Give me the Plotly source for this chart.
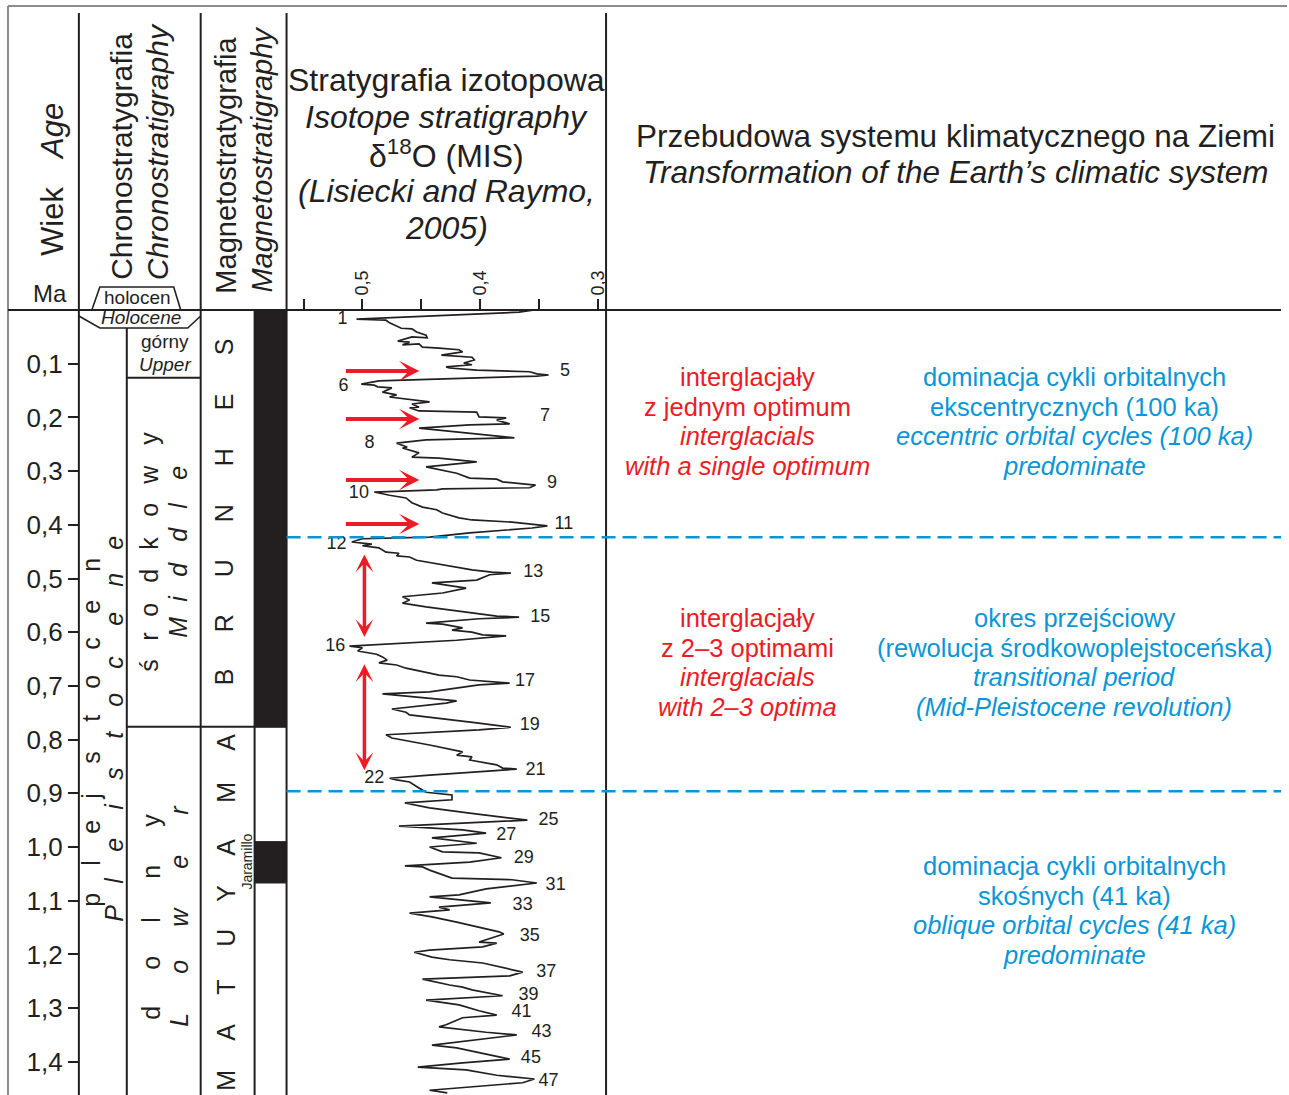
import plotly.graph_objects as go

# ---------------- data ----------------
# LR04-style benthic d18O curve (axis values as printed on the chart), age in Ma
age_ma = [
    0.000, 0.004, 0.017, 0.019, 0.024, 0.030, 0.034, 0.035, 0.041, 0.047,
    0.052, 0.050, 0.058, 0.060, 0.065, 0.063, 0.069, 0.071, 0.074, 0.078,
    0.084, 0.088, 0.093, 0.099, 0.102, 0.106, 0.108, 0.112, 0.115, 0.119,
    0.121, 0.123, 0.127, 0.132, 0.138, 0.140, 0.143, 0.145, 0.153, 0.158,
    0.162, 0.166, 0.171, 0.175, 0.181, 0.182, 0.188, 0.190, 0.199, 0.201,
    0.205, 0.212, 0.214, 0.220, 0.227, 0.238, 0.242, 0.248, 0.255, 0.257,
    0.266, 0.274, 0.276, 0.283, 0.292, 0.298, 0.304, 0.313, 0.315, 0.320,
    0.326, 0.331, 0.333, 0.335, 0.339, 0.345, 0.350, 0.359, 0.367, 0.372,
    0.378, 0.387, 0.391, 0.395, 0.400, 0.402, 0.406, 0.415, 0.423, 0.426,
    0.432, 0.434, 0.436, 0.439, 0.443, 0.451, 0.453, 0.458, 0.460, 0.466,
    0.469, 0.471, 0.484, 0.488, 0.490, 0.493, 0.503, 0.508, 0.518, 0.527,
    0.534, 0.540, 0.546, 0.553, 0.564, 0.570, 0.572, 0.575, 0.583, 0.585,
    0.592, 0.596, 0.600, 0.605, 0.607, 0.615, 0.626, 0.629, 0.635, 0.641,
    0.646, 0.652, 0.657, 0.661, 0.667, 0.674, 0.680, 0.683, 0.689, 0.695,
    0.698, 0.711, 0.715, 0.728, 0.732, 0.743, 0.749, 0.754, 0.760, 0.769,
    0.777, 0.782, 0.791, 0.797, 0.810, 0.819, 0.823, 0.829, 0.832, 0.838,
    0.847, 0.853, 0.855, 0.866, 0.872, 0.875, 0.879, 0.890, 0.898, 0.903,
    0.912, 0.918, 0.927, 0.937, 0.950, 0.961, 0.968, 0.974, 0.983, 0.993,
    1.000, 1.009, 1.011, 1.020, 1.028, 1.035, 1.037, 1.043, 1.048, 1.058,
    1.061, 1.067, 1.078, 1.089, 1.093, 1.104, 1.112, 1.117, 1.123, 1.130,
    1.140, 1.149, 1.158, 1.162, 1.177, 1.179, 1.186, 1.192, 1.196, 1.205,
    1.210, 1.216, 1.227, 1.233, 1.240, 1.246, 1.257, 1.261, 1.266, 1.277,
    1.285, 1.294, 1.305, 1.313, 1.318, 1.331, 1.335, 1.345, 1.350, 1.369,
    1.374, 1.384, 1.395, 1.402, 1.410, 1.415, 1.425, 1.432, 1.439, 1.453,
    1.458,
]
d18o = [
    0.354, 0.367, 0.505, 0.480, 0.477, 0.471, 0.467, 0.458, 0.454, 0.446,
    0.445, 0.458, 0.470, 0.460, 0.466, 0.452, 0.449, 0.435, 0.418, 0.415,
    0.433, 0.407, 0.405, 0.414, 0.407, 0.429, 0.426, 0.403, 0.358, 0.352,
    0.342, 0.352, 0.412, 0.486, 0.501, 0.490, 0.487, 0.475, 0.483, 0.471,
    0.477, 0.463, 0.443, 0.458, 0.452, 0.460, 0.452, 0.403, 0.401, 0.378,
    0.386, 0.375, 0.409, 0.452, 0.420, 0.371, 0.446, 0.471, 0.462, 0.466,
    0.452, 0.458, 0.435, 0.403, 0.446, 0.432, 0.420, 0.409, 0.386, 0.381,
    0.353, 0.358, 0.432, 0.437, 0.490, 0.477, 0.463, 0.458, 0.449, 0.437,
    0.432, 0.418, 0.407, 0.373, 0.353, 0.343, 0.356, 0.409, 0.443, 0.500,
    0.509, 0.501, 0.492, 0.500, 0.486, 0.480, 0.469, 0.471, 0.460, 0.454,
    0.446, 0.441, 0.407, 0.390, 0.374, 0.392, 0.403, 0.441, 0.412, 0.432,
    0.466, 0.460, 0.466, 0.446, 0.409, 0.386, 0.367, 0.401, 0.446, 0.432,
    0.415, 0.424, 0.407, 0.398, 0.378, 0.420, 0.511, 0.500, 0.504, 0.488,
    0.483, 0.479, 0.486, 0.471, 0.463, 0.449, 0.435, 0.420, 0.409, 0.375,
    0.401, 0.443, 0.483, 0.420, 0.429, 0.475, 0.463, 0.460, 0.435, 0.403,
    0.374, 0.401, 0.480, 0.475, 0.443, 0.424, 0.415, 0.420, 0.407, 0.409,
    0.386, 0.381, 0.369, 0.443, 0.477, 0.471, 0.460, 0.452, 0.446, 0.424,
    0.424, 0.464, 0.443, 0.409, 0.360, 0.469, 0.415, 0.395, 0.441, 0.403,
    0.443, 0.432, 0.401, 0.382, 0.409, 0.464, 0.449, 0.443, 0.437, 0.424,
    0.373, 0.352, 0.395, 0.418, 0.443, 0.391, 0.435, 0.426, 0.460, 0.441,
    0.420, 0.401, 0.384, 0.380, 0.401, 0.386, 0.398, 0.443, 0.456, 0.441,
    0.426, 0.398, 0.374, 0.364, 0.375, 0.449, 0.426, 0.415, 0.407, 0.381,
    0.446, 0.418, 0.401, 0.386, 0.415, 0.429, 0.435, 0.395, 0.369, 0.441,
    0.420, 0.398, 0.375, 0.415, 0.453, 0.412, 0.386, 0.354, 0.364, 0.443,
    0.428,
]
assert len(age_ma) == len(d18o)

# Marine isotope stage labels
mis_numbers = [1, 5, 6, 7, 8, 9, 10, 11, 12, 13, 15, 16, 17, 19, 21, 22,
               25, 27, 29, 31, 33, 35, 37, 39, 41, 43, 45, 47]
mis_age = [0.017, 0.114, 0.142, 0.199, 0.248, 0.324, 0.341, 0.399, 0.436,
           0.488, 0.572, 0.626, 0.691, 0.773, 0.857, 0.873, 0.950, 0.978,
           1.022, 1.071, 1.108, 1.166, 1.233, 1.276, 1.309, 1.346, 1.393, 1.436]
mis_val = [0.517, 0.328, 0.516, 0.345, 0.494, 0.339, 0.503, 0.329, 0.522,
           0.355, 0.349, 0.523, 0.362, 0.358, 0.353, 0.490, 0.342, 0.378,
           0.363, 0.336, 0.364, 0.358, 0.344, 0.359, 0.365, 0.348, 0.357, 0.342]

age_ticks = [0.1, 0.2, 0.3, 0.4, 0.5, 0.6, 0.7, 0.8, 0.9, 1.0, 1.1, 1.2, 1.3, 1.4]
age_tick_labels = ['0,1', '0,2', '0,3', '0,4', '0,5', '0,6', '0,7', '0,8', '0,9',
                   '1,0', '1,1', '1,2', '1,3', '1,4']
iso_ticks = [0.55, 0.50, 0.45, 0.40, 0.35, 0.30]
iso_tick_labels = ['', '0,5', '', '0,4', '', '0,3']

# polarity chrons (normal = black), Ma
normal_chrons = [(0.0, 0.776), (0.990, 1.067)]
# chronostratigraphic boundaries, Ma
upper_base = 0.126
middle_base = 0.776
# climate-regime boundaries (blue dashed), Ma
regime_bounds = [0.423, 0.896]
# single-optimum interglacial arrows (ages)
single_opt_age = [0.1136, 0.203, 0.3166, 0.3985]
# 2-3 optima double arrows (start age, end age)
multi_opt_spans = [(0.4525, 0.609), (0.657, 0.857)]

# ---------------- styling ----------------
W, H = 1289, 1095
INK = '#231F20'
RED = '#ED1C24'
BLUE = '#0A96D6'
GRAY = '#8C8C8C'
FONT = 'Liberation Sans, Arial, sans-serif'

def px(x):
    return x / W

def py(y):
    return 1 - y / H

fig = go.Figure()
fig.add_trace(go.Scatter(x=d18o, y=age_ma, mode='lines',
                         line=dict(color=INK, width=1.7),
                         hoverinfo='skip', showlegend=False))
fig.add_trace(go.Scatter(x=mis_val, y=mis_age, mode='text',
                         text=[str(n) for n in mis_numbers],
                         textfont=dict(size=18, color=INK, family=FONT),
                         hoverinfo='skip', showlegend=False))

shapes = []

def pline(x0, y0, x1, y1, color=INK, width=2, dash=None):
    d = dict(color=color, width=width)
    if dash:
        d['dash'] = dash
    shapes.append(dict(type='line', xref='paper', yref='paper',
                       x0=px(x0), y0=py(y0), x1=px(x1), y1=py(y1), line=d))

# outer frame (gray)
pline(8, 6, W, 6, GRAY, 2)
pline(8, 6, 8, H, GRAY, 2)
# column separators
for xx in (79, 201, 287, 607):
    pline(xx, 13, xx, H)
pline(127, 328, 127, H)
pline(255, 310, 255, H)
# header base line
pline(8, 310, 1283, 310, INK, 2.2)
# Holocene box
shapes.append(dict(type='path', xref='paper', yref='paper',
                   path='M %f,%f L %f,%f L %f,%f L %f,%f' % (
                       px(92), py(310), px(100), py(287), px(174), py(287), px(181), py(310)),
                   line=dict(color=INK, width=1.6)))
shapes.append(dict(type='path', xref='paper', yref='paper',
                   path='M %f,%f L %f,%f L %f,%f L %f,%f' % (
                       px(79), py(316), px(100), py(328), px(188), py(328), px(201), py(316)),
                   line=dict(color=INK, width=1.6)))
# chronostratigraphic boundaries
shapes.append(dict(type='line', xref='paper', yref='y', x0=px(127), x1=px(201),
                   y0=upper_base, y1=upper_base, line=dict(color=INK, width=2)))
shapes.append(dict(type='line', xref='paper', yref='y', x0=px(127), x1=px(287),
                   y0=middle_base, y1=middle_base, line=dict(color=INK, width=2)))
# polarity
for a0, a1 in normal_chrons:
    shapes.append(dict(type='rect', xref='paper', yref='y', x0=px(255), x1=px(287),
                       y0=a0, y1=a1, fillcolor=INK, line=dict(color=INK, width=1)))
# blue dashed regime boundaries
for a in regime_bounds:
    shapes.append(dict(type='line', xref='paper', yref='y', x0=px(287), x1=px(1283),
                       y0=a, y1=a, line=dict(color=BLUE, width=2.5, dash='14px,7px')))

ann = []

def T(text, x, y, size, color=INK, angle=0, xa='center', ya='middle'):
    ann.append(dict(text=text, x=px(x), y=py(y), xref='paper', yref='paper',
                    showarrow=False, textangle=angle, xanchor=xa, yanchor=ya,
                    font=dict(size=size, color=color, family=FONT)))

# column headers
T('Wiek', 52, 221, 31, angle=-90)
T('<i>Age</i>', 52, 131, 31, angle=-90)
T('Ma', 50, 293, 24)
T('Chronostratygrafia', 121.5, 282, 30, angle=-90, ya='bottom')
T('<i>Chronostratigraphy</i>', 158, 282, 30, angle=-90, ya='bottom')
T('Magnetostratygrafia', 225.5, 296, 29, angle=-90, ya='bottom')
T('<i>Magnetostratigraphy</i>', 262, 295, 29, angle=-90, ya='bottom')

iso_head = ['Stratygrafia izotopowa', '<i>Isotope stratigraphy</i>',
            '\u03b4<sup>18</sup>O (MIS)', '<i>(Lisiecki and Raymo,</i>', '<i>2005)</i>']
for i, s in enumerate(iso_head):
    T(s, 447, 80 + i * 37, 32)

T('Przebudowa systemu klimatycznego na Ziemi', 957, 136, 31.5)
T('<i>Transformation of the Earth\u2019s climatic system</i>', 957, 172, 31.5)

# chronostratigraphy small labels
T('holocen', 138, 298, 19)
T('<i>Holocene</i>', 141, 318, 19)
T('g\u00f3rny', 165, 341, 19)
T('<i>Upper</i>', 165, 364, 19)

def letters(word, x, ys, size=25, italic=False):
    for ch, yy in zip(word, ys):
        T('<i>%s</i>' % ch if italic else ch, x, yy, size, angle=-90)

letters('plejstocen', 91, [900, 863, 827, 796, 757, 718, 682, 643, 607, 565])
letters('Pleistocene', 114, [913, 880, 845, 806, 773, 735, 700, 662, 619, 580, 543], italic=True)
letters('\u015brodkowy', 149, [665, 637, 610, 576, 543, 510, 475, 438])
letters('Middle', 178, [627, 598, 569, 534, 505, 473], italic=True)
letters('dolny', 151, [1013, 963, 920, 872, 820])
letters('Lower', 179, [1020, 967, 917, 862, 810], italic=True)
letters('BRUNHES', 224.5, [677, 623, 568, 513, 457, 402, 347])
letters('MATUYAMA', 226, [1080, 1032, 987, 938, 893, 847, 792, 742])
T('Jaramillo', 247, 862, 14, angle=-90)

# right-hand descriptions
red1 = ['interglacja\u0142y', 'z jednym optimum', '<i>interglacials</i>', '<i>with a single optimum</i>']
blue1 = ['dominacja cykli orbitalnych', 'ekscentrycznych (100 ka)',
         '<i>eccentric orbital cycles (100 ka)</i>', '<i>predominate</i>']
red2 = ['interglacja\u0142y', 'z 2\u20133 optimami', '<i>interglacials</i>', '<i>with 2\u20133 optima</i>']
blue2 = ['okres przej\u015bciowy', '(rewolucja \u015brodkowoplejstoce\u0144ska)',
         '<i>transitional period</i>', '<i>(Mid-Pleistocene revolution)</i>']
blue3 = ['dominacja cykli orbitalnych', 'sko\u015bnych (41 ka)',
         '<i>oblique orbital cycles (41 ka)</i>', '<i>predominate</i>']
for lines, x0, y0, col in ((red1, 749, 377, RED), (blue1, 1076, 377, BLUE),
                           (red2, 749, 618, RED), (blue2, 1076, 618, BLUE),
                           (blue3, 1076, 866, BLUE)):
    for i, s in enumerate(lines):
        T(s, x0, y0 + i * 29.7, 25.5, color=col)

# red arrows
for a in single_opt_age:
    ann.append(dict(x=0.4517, y=a, ax=0.5153, ay=a, xref='x', yref='y',
                    axref='x', ayref='y', text='', showarrow=True,
                    arrowhead=3, arrowsize=0.85, arrowwidth=4, arrowcolor=RED,
                    standoff=0, startstandoff=0))
for a0, a1 in multi_opt_spans:
    ann.append(dict(x=0.4983, y=a1, ax=0.4983, ay=a0, xref='x', yref='y',
                    axref='x', ayref='y', text='', showarrow=True,
                    arrowhead=3, startarrowhead=3, arrowside='end+start',
                    arrowsize=0.85, startarrowsize=0.85, arrowwidth=3.5, arrowcolor=RED,
                    standoff=0, startstandoff=0))

fig.update_layout(
    width=W, height=H,
    margin=dict(l=0, r=0, t=0, b=0),
    paper_bgcolor='white', plot_bgcolor='rgba(0,0,0,0)',
    font=dict(family=FONT, color=INK),
    showlegend=False, hovermode=False,
    xaxis=dict(domain=[px(287), px(607)], range=[0.5644, 0.2932],
               side='top', anchor='y', tickmode='array',
               tickvals=iso_ticks, ticktext=iso_tick_labels,
               ticks='outside', ticklen=10, tickwidth=1.5, tickcolor=INK,
               tickangle=-90, tickfont=dict(size=18, color=INK, family=FONT),
               showgrid=False, zeroline=False, showline=False),
    yaxis=dict(domain=[0, py(310)], range=[785 / 537, 0],
               anchor='free', position=px(79), side='left',
               tickmode='array', tickvals=age_ticks, ticktext=age_tick_labels,
               ticks='outside', ticklen=11, tickwidth=2, tickcolor=INK,
               tickfont=dict(size=26, color=INK, family=FONT),
               showgrid=False, zeroline=False, showline=False),
    shapes=shapes,
    annotations=ann,
)

fig.write_html('out.html')
